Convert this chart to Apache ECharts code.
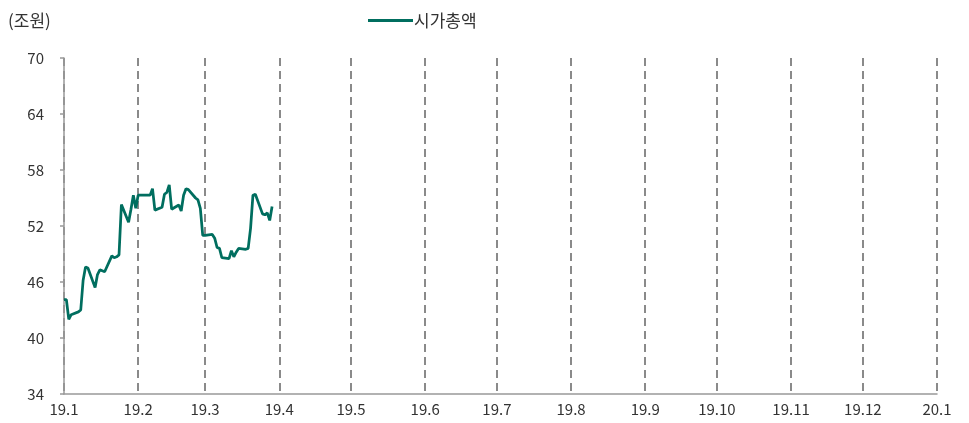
<!DOCTYPE html>
<html>
<head>
<meta charset="utf-8">
<script src="https://cdn.jsdelivr.net/npm/echarts@6/dist/echarts.min.js"></script>
<style>html,body{margin:0;padding:0;background:#fff}#c{width:969px;height:423px}</style>
</head>
<body>
<div id="c"></div>
<script>
const dates = [
 '2019-01-01','2019-01-02','2019-01-03','2019-01-04','2019-01-07','2019-01-08','2019-01-09','2019-01-10','2019-01-11',
 '2019-01-14','2019-01-15','2019-01-16','2019-01-17','2019-01-18','2019-01-21','2019-01-22','2019-01-23',
 '2019-01-24','2019-01-25','2019-01-28','2019-01-29','2019-01-30','2019-01-31','2019-02-01',
 '2019-02-04','2019-02-05','2019-02-06',
 '2019-02-07','2019-02-08','2019-02-11','2019-02-12','2019-02-13','2019-02-14','2019-02-15',
 '2019-02-18','2019-02-19','2019-02-20','2019-02-21','2019-02-22','2019-02-25','2019-02-26','2019-02-27','2019-02-28',
 '2019-03-01',
 '2019-03-04','2019-03-05','2019-03-06','2019-03-07','2019-03-08','2019-03-11','2019-03-12','2019-03-13','2019-03-14','2019-03-15',
 '2019-03-18','2019-03-19','2019-03-20','2019-03-21','2019-03-22','2019-03-25','2019-03-26','2019-03-27','2019-03-28','2019-03-29'
];
const marketCap = [
 44.1,44.1,42.0,42.5,42.8,43.0,46.2,47.6,47.5,
 45.4,46.8,47.3,47.2,47.1,48.8,48.6,48.7,
 48.9,54.3,52.4,53.8,55.3,53.9,55.3,
 55.3,55.3,55.3,
 56.0,53.7,54.0,55.4,55.6,56.4,53.8,
 54.25,53.6,55.3,56.0,55.9,55.0,54.8,53.9,51.0,
 51.0,
 51.1,50.7,49.7,49.6,48.6,48.5,49.35,48.7,49.2,49.6,
 49.5,49.6,51.75,55.3,55.4,53.3,53.2,53.4,52.6,54.1
];
const seriesName = '시가총액';
const unitLabel = '(조원)';
const yMin = 34, yMax = 70, yStep = 6;
const xStart = '2019-01-01', xEnd = '2020-01-01';

const chart = echarts.init(document.getElementById('c'));
const font = '"Noto Sans CJK KR","Noto Sans",sans-serif';
chart.setOption({
  animation: false,
  textStyle: { fontFamily: font },
  title: { text: unitLabel, left: 3, top: 7, textStyle: { fontSize: 17, fontWeight: 'normal', color: '#333', fontFamily: font } },
  legend: {
    left: 368, top: 12, padding: 0,
    icon: 'rect', itemWidth: 45, itemHeight: 3, itemGap: 10,
    textStyle: { fontSize: 17, color: '#333', fontFamily: font, padding: [0,0,0,-4] },
    data: [seriesName]
  },
  grid: { left: 64, right: 32, top: 58, bottom: 29, containLabel: false },
  xAxis: {
    type: 'time',
    min: xStart, max: xEnd,
    minInterval: 28 * 86400000, maxInterval: 31 * 86400000,
    axisLine: { show: true, lineStyle: { color: '#999', width: 1.5 } },
    axisTick: { show: false },
    splitLine: { show: true, lineStyle: { color: '#8a8a8a', width: 2, type: [8, 5] } },
    axisLabel: {
      fontSize: 15, color: '#333', margin: 8, showMinLabel: true, showMaxLabel: true,
      fontFamily: font,
      formatter: function (v) { const d = new Date(v); return (d.getFullYear() % 100) + '.' + (d.getMonth() + 1); }
    }
  },
  yAxis: {
    type: 'value', min: yMin, max: yMax, interval: yStep,
    axisLine: { show: true, lineStyle: { color: '#999', width: 1.5 } },
    axisTick: { show: true, inside: false, length: 4, lineStyle: { color: '#999', width: 1.5 } },
    splitLine: { show: false },
    axisLabel: { fontSize: 15, color: '#333', margin: 20, fontFamily: font }
  },
  series: [{
    name: seriesName, type: 'line', showSymbol: false, symbol: 'none',
    lineStyle: { color: '#006E5F', width: 2.75 },
    itemStyle: { color: '#006E5F' },
    data: dates.map((d, i) => [d, marketCap[i]])
  }]
});
</script>
</body>
</html>
